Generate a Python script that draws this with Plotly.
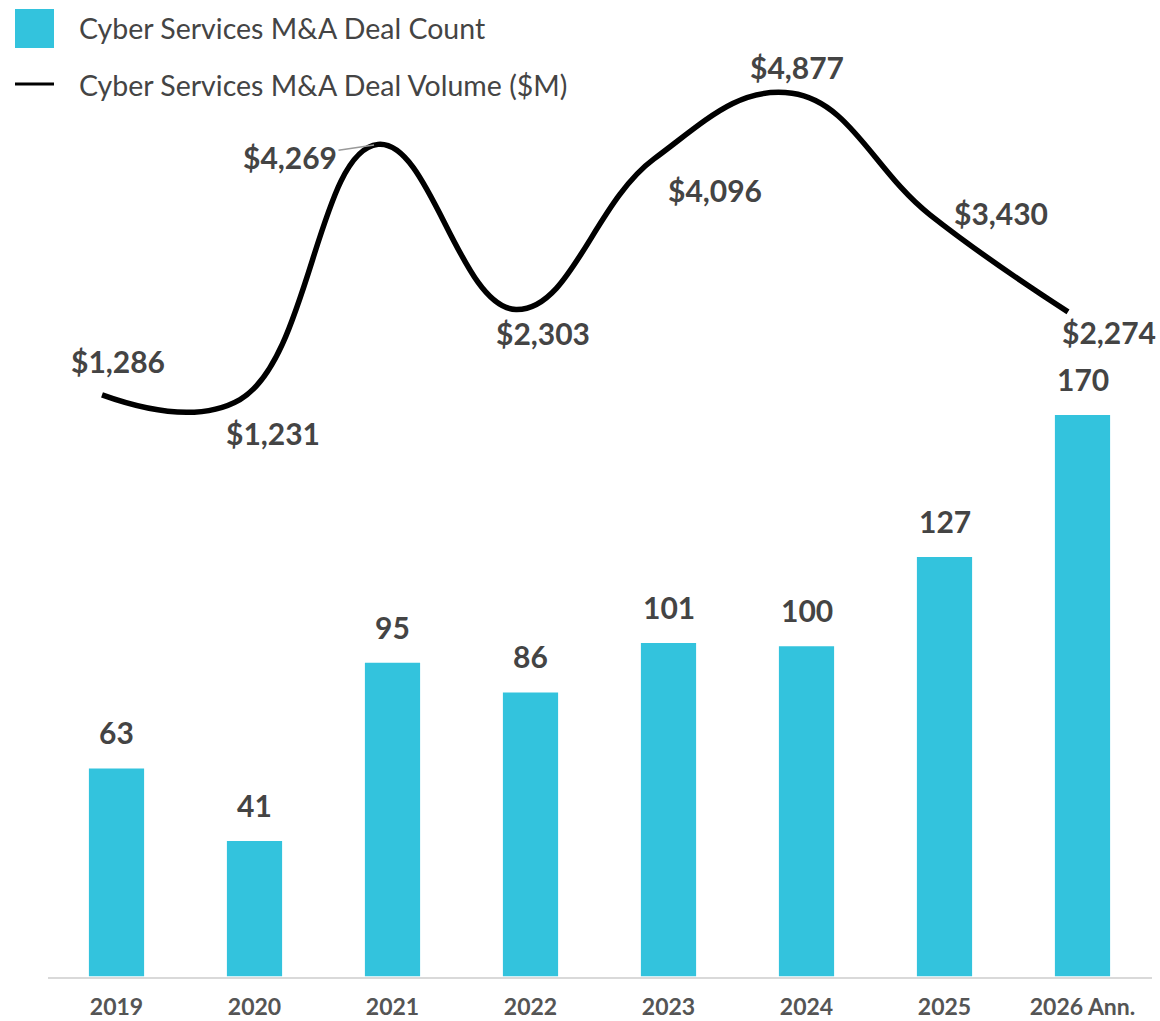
import plotly.graph_objects as go

years = ["2019", "2020", "2021", "2022", "2023", "2024", "2025", "2026 Ann."]
deal_count = [63, 41, 95, 86, 101, 100, 127, 170]
deal_volume = [1286, 1231, 4269, 2303, 4096, 4877, 3430, 2274]
volume_labels = ["$1,286", "$1,231", "$4,269", "$2,303", "$4,096", "$4,877", "$3,430", "$2,274"]
# label offsets (px) relative to each category centre / value
vol_xshift = [1.5, 18.5, 0, 12.5, 46.5, -9.5, 56.5, 26.5]
vol_yshift = [33.5, -33, 0, -23.5, -31, 26.5, 1.5, -20]

W, H = 1160, 1021

BAR = "#33C3DD"
TXT = "#444444"
LBL_FONT = dict(family="Lato, Open Sans, sans-serif", size=30, color=TXT)

XR = [-0.5, 7.5]
LINE_SHIFT = 0.105  # line drawn slightly left of bar centres

idx = list(range(len(years)))

fig = go.Figure()
fig.add_trace(go.Bar(x=years, y=deal_count, marker=dict(color=BAR, line=dict(width=0)),
                     width=0.4, name="Cyber Services M&A Deal Count", xaxis="x", yaxis="y"))
fig.add_trace(go.Scatter(x=idx, y=deal_volume, mode="lines",
                         line=dict(color="black", width=5.5, shape="spline", smoothing=1.2),
                         name="Cyber Services M&A Deal Volume ($M)", xaxis="x2", yaxis="y2"))

ann = []
for i, v in zip(idx, deal_count):
    ann.append(dict(x=i, y=v, xref="x", yref="y", text=f"<b>{v}</b>", showarrow=False,
                    yanchor="middle", yshift=36, font=LBL_FONT))
for i, (v, t) in enumerate(zip(deal_volume, volume_labels)):
    if i == 2:
        ann.append(dict(x=i, y=v, xref="x2", yref="y2", text=f"<b>{t}</b>", showarrow=True,
                        arrowhead=0, arrowwidth=1.5, arrowcolor="#999999", ax=-88, ay=13,
                        standoff=4, font=LBL_FONT))
    else:
        ann.append(dict(x=i, y=v, xref="x", yref="y2", text=f"<b>{t}</b>", showarrow=False,
                        xshift=vol_xshift[i], yshift=vol_yshift[i], font=LBL_FONT))

def px(x):
    return x / W

def py(y):
    return 1 - y / H

# manual legend
LEG_FONT = dict(family="Lato, Open Sans, sans-serif", size=28.5, color=TXT)
ann.append(dict(x=px(77), y=py(28), xref="paper", yref="paper", xanchor="left",
                yanchor="middle", text="Cyber Services M&A Deal Count", showarrow=False, font=LEG_FONT))
ann.append(dict(x=px(77), y=py(85), xref="paper", yref="paper", xanchor="left",
                yanchor="middle", text="Cyber Services M&A Deal Volume ($M)", showarrow=False, font=LEG_FONT))
shapes = [
    dict(type="rect", xref="paper", yref="paper", x0=px(15), x1=px(54),
         y0=py(48), y1=py(9), fillcolor=BAR, line=dict(width=0)),
    dict(type="line", xref="paper", yref="paper", x0=px(15), x1=px(54),
         y0=py(84), y1=py(84), line=dict(color="black", width=3)),
]

XDOM = [px(47.5), px(1151.5)]
YDOM = [py(976.5), py(10)]

fig.update_layout(
    width=W, height=H,
    margin=dict(l=0, r=0, t=0, b=0, pad=0, autoexpand=False),
    paper_bgcolor="white", plot_bgcolor="white",
    showlegend=False,
    annotations=ann, shapes=shapes,
    xaxis=dict(domain=XDOM, range=XR, type="category", showgrid=False, automargin=False,
               showline=True, linecolor="#d9d9d9", linewidth=2, ticks="",
               tickfont=dict(family="Lato, sans-serif", size=23, color="#555555"),
               tickprefix="<b>", ticksuffix="</b>", ticklabelstandoff=9),
    xaxis2=dict(domain=XDOM, range=[XR[0] + LINE_SHIFT, XR[1] + LINE_SHIFT], overlaying="x",
                visible=False),
    yaxis=dict(domain=YDOM, range=[0, 292.6], visible=False),
    yaxis2=dict(domain=YDOM, range=[-5639, 5869], overlaying="y", visible=False),
)

fig.write_html("out.html", config={"displayModeBar": False},
               post_script="document.body.style.margin='0px';document.body.style.overflow='hidden';")
